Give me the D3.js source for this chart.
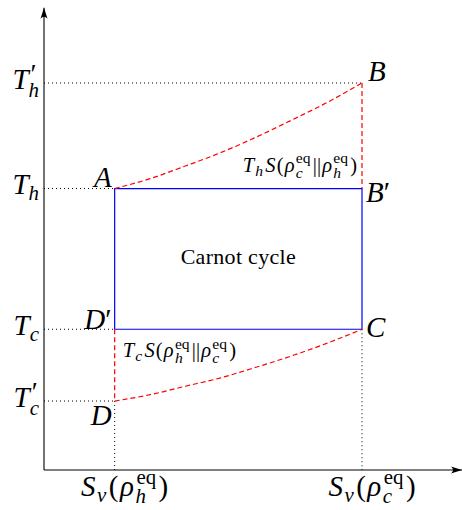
<!DOCTYPE html>
<html>
<head>
<meta charset="utf-8">
<script src="https://cdn.jsdelivr.net/npm/d3@7/dist/d3.min.js"></script>
<style>
html,body{margin:0;padding:0;background:#fff;}
svg{display:block;}
</style>
</head>
<body>
<svg id="chart" width="462" height="510"></svg>
<script>
// ---------------- data ----------------
const entropyTicks = [1, 4.5];                 // S_v(rho_h^eq), S_v(rho_c^eq)
const entropyTickNames = ["h", "c"];
const tempTicks = [0.98, 2, 4, 5.5];           // T'_c, T_c, T_h, T'_h
const tempTickNames = [["c", true], ["c", false], ["h", false], ["h", true]];
// Carnot rectangle corners (S, T)
const cycleS = [1, 4.5, 4.5, 1];
const cycleT = [4, 4, 2, 2];
// upper red curve A -> B
const upperS = [1, 1.5, 2, 2.5, 3, 3.5, 4, 4.5];
const upperT = [4.0, 4.14, 4.32, 4.51, 4.73, 4.97, 5.22, 5.5];
// lower red curve D -> C
const lowerS = [1, 1.5, 2, 2.5, 3, 3.5, 4, 4.5];
const lowerT = [0.98, 1.07, 1.19, 1.31, 1.46, 1.62, 1.80, 2.0];
// point labels
const pointNames = ["A", "B", "B′", "C", "D′", "D"];
const pointS = [1, 4.5, 4.5, 4.5, 1, 1];
const pointT = [4, 5.5, 4, 2, 2, 0.98];
const axisMaxS = 5.915, axisMaxT = 6.57;

const FONT = "Liberation Serif";
const x = d3.scaleLinear().domain([0, 4.5]).range([44, 362]);
const y = d3.scaleLinear().domain([0, 5.5]).range([470, 83]);
const svg = d3.select("#chart");

function draw() {
  svg.selectAll("*").remove();
  svg.attr("font-family", FONT);

  const defs = svg.append("defs");
  defs.append("marker").attr("id", "arr").attr("viewBox", "0 0 12 10")
    .attr("refX", 11).attr("refY", 5).attr("markerWidth", 12).attr("markerHeight", 10)
    .attr("markerUnits", "userSpaceOnUse").attr("orient", "auto")
    .append("path").attr("d", "M0,1.5 Q4,5 0,8.5 L11,5 Z").attr("fill", "#000");

  // dotted guides
  const dotted = svg.append("g").attr("stroke", "#000").attr("stroke-width", 1)
    .attr("stroke-dasharray", "1,3").attr("fill", "none");
  dotted.append("line").attr("x1", x(0)).attr("x2", x(4.5)).attr("y1", y(5.5)).attr("y2", y(5.5));
  [4, 2, 0.98].forEach(t => dotted.append("line").attr("x1", x(0)).attr("x2", x(1)).attr("y1", y(t)).attr("y2", y(t)));
  dotted.append("line").attr("x1", x(1)).attr("x2", x(1)).attr("y1", y(0.98)).attr("y2", y(0));
  dotted.append("line").attr("x1", x(4.5)).attr("x2", x(4.5)).attr("y1", y(2)).attr("y2", y(0));

  // blue Carnot cycle
  const rectPts = cycleS.map((s, i) => [x(s), y(cycleT[i])]);
  svg.append("path").attr("d", d3.line()(rectPts) + "Z")
    .attr("fill", "none").attr("stroke", "#0000ff").attr("stroke-width", 1.2);

  // red dashed
  const red = svg.append("g").attr("stroke", "#ff0000").attr("stroke-width", 1.2)
    .attr("stroke-dasharray", "5,3").attr("fill", "none");
  const curve = d3.line().x(d => x(d[0])).y(d => y(d[1])).curve(d3.curveMonotoneX);
  red.append("path").attr("d", curve(upperS.map((s, i) => [s, upperT[i]])));
  red.append("path").attr("d", curve(lowerS.map((s, i) => [s, lowerT[i]])));
  red.append("line").attr("x1", x(4.5)).attr("x2", x(4.5)).attr("y1", y(5.5)).attr("y2", y(4));
  red.append("line").attr("x1", x(1)).attr("x2", x(1)).attr("y1", y(2)).attr("y2", y(0.98));

  // axes
  svg.append("line").attr("x1", x(0)).attr("y1", y(0)).attr("x2", x(0)).attr("y2", y(axisMaxT))
    .attr("stroke", "#000").attr("stroke-width", 1.1).attr("marker-end", "url(#arr)");
  svg.append("line").attr("x1", x(0)).attr("y1", y(0)).attr("x2", x(axisMaxS)).attr("y2", y(0))
    .attr("stroke", "#000").attr("stroke-width", 1.1).attr("marker-end", "url(#arr)");

  // math text helper (one <text> per label)
  function mathText(parent, tokens, F, sr, pad, subShift) {
    sr = sr || 0.7; pad = pad || 0; subShift = subShift || 0.3;
    const txt = parent.append("text").attr("font-family", FONT).attr("fill", "#000");
    let cx = 0;
    const s = F * sr;
    const add = (str, px, py, size, italic) => {
      const ts = txt.append("tspan").attr("x", px).attr("y", py).attr("font-size", size)
        .attr("font-family", FONT).attr("font-style", italic ? "italic" : "normal").text(str);
      return ts.node().getComputedTextLength();
    };
    tokens.forEach(tk => {
      if (tk.t !== undefined) {
        cx += add(tk.t, cx, 0, F, tk.i) + pad;
      } else {
        let w = 0;
        if (tk.sub) {
          const dx = tk.subdx || 0;
          w = Math.max(w, add(tk.sub, cx + dx, F * (tk.sup ? subShift : 0.2), s, true) + dx);
        }
        if (tk.sup) {
          const dx = tk.supdx || 0;
          const ps = tk.prime ? F * 0.95 : s;
          w = Math.max(w, add(tk.sup, cx + dx, -F * (tk.prime ? 0.2 : 0.42), ps, false) + dx);
        }
        cx += w + 1 + pad;
      }
    });
    return { txt, w: cx - pad };
  }
  function place(m, px, py, anchor) {
    const off = anchor === "end" ? m.w : anchor === "middle" ? m.w / 2 : 0;
    m.txt.attr("transform", `translate(${px - off},${py})`);
  }

  const labels = svg.append("g");
  const F = 29;

  tempTicks.forEach((t, i) => {
    const [sub, primed] = tempTickNames[i];
    const tk = [{ t: "T", i: 1 }, primed ? { sub: sub, sup: "′", prime: true, supdx: 2 } : { sub: sub }];
    place(mathText(labels, tk, F, 0.72), 40, y(t) + 5.5, "end");
  });

  entropyTicks.forEach((sv, i) => {
    const tk = [{ t: "S", i: 1 }, { sub: "v" }, { t: "(" }, { t: "ρ", i: 1 },
      { sub: entropyTickNames[i], sup: "eq", supdx: 1 }, { t: ")" }];
    place(mathText(labels, tk, F, 0.72, 1.5, 0.24), x(sv) + 10, 496, "middle");
  });

  const pointOffsets = [[-3, -2, "end"], [6, -2, "start"], [4, 13, "start"], [4, 8, "start"], [-3, 0, "end"], [-3, 24, "end"]];
  pointNames.forEach((nm, i) => {
    const [dx, dy, anc] = pointOffsets[i];
    const tk = [{ t: nm[0], i: 1 }];
    if (nm.length > 1) tk.push({ t: "′", i: 0 });
    place(mathText(labels, tk, F), x(pointS[i]) + dx, y(pointT[i]) + dy, anc);
  });

  const f2 = 20.5;
  place(mathText(labels, [{ t: "T", i: 1 }, { sub: "h" }, { t: "S", i: 1 }, { t: "(" }, { t: "ρ", i: 1 },
    { sub: "c", sup: "eq" }, { t: "||" }, { t: "ρ", i: 1 }, { sub: "h", sup: "eq" }, { t: ")" }], f2, 0.76, 1.2),
    x(4.5) - 5, y(4) - 17, "end");
  place(mathText(labels, [{ t: "T", i: 1 }, { sub: "c" }, { t: "S", i: 1 }, { t: "(" }, { t: "ρ", i: 1 },
    { sub: "h", sup: "eq" }, { t: "||" }, { t: "ρ", i: 1 }, { sub: "c", sup: "eq" }, { t: ")" }], f2, 0.76, 1.2),
    x(1) + 8, y(2) + 28, "start");

  labels.append("text").attr("font-family", FONT).attr("x", (x(1) + x(4.5)) / 2).attr("y", (y(4) + y(2)) / 2 + 5)
    .attr("text-anchor", "middle").attr("font-size", 22).attr("letter-spacing", 0.3).text("Carnot cycle");
}

draw();
if (document.fonts) {
  document.fonts.ready.then(draw);
}
</script>
</body>
</html>
